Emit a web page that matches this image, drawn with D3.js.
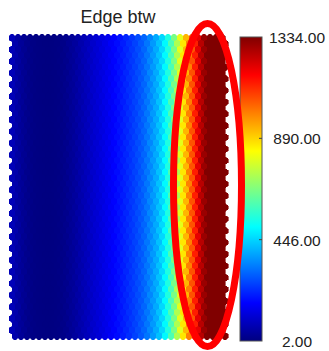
<!DOCTYPE html>
<html>
<head>
<meta charset="utf-8">
<script src="https://cdn.jsdelivr.net/npm/d3@7"></script>
<style>
  body { margin: 0; background: #fff; }
  text { font-family: "Liberation Sans", Arial, Helvetica, sans-serif; fill: #222; }
</style>
</head>
<body>
<div id="chart"></div>
<script>
var title = "Edge btw";
var nrows = 52;
// values per column, rows starting flush left
var evenRow = [75, 45, 25, 12, 6, 4, 3, 4, 8, 18, 32, 50, 70, 90, 110, 128, 148, 170,
               192, 216, 240, 268, 300, 345, 390, 450, 540, 660, 800, 930, 1060, 1200,
               1300, 1334, 1334, 1334];
// values per column, rows shifted half a cell right
var oddRow = [60, 34, 18, 9, 5, 3, 3, 6, 12, 25, 40, 60, 80, 100, 118, 138, 160, 181,
              204, 228, 254, 284, 322, 368, 420, 495, 600, 730, 865, 1000, 1130, 1260,
              1334, 1334, 1334, 1334];
var colorTicks = [2, 446, 890, 1334];
var jetStops = ["#000080", "#0000ff", "#00ffff", "#ffff00", "#ff0000", "#800000"];

var width = 329,
    height = 351,
    ncols = evenRow.length,
    grid = {left: 9, right: 228, top: 34, bottom: 340};

var svg = d3.select("#chart").append("svg")
    .attr("width", width)
    .attr("height", height);

var jet = d3.scaleLinear()
    .domain([0, 0.125, 0.375, 0.625, 0.875, 1])
    .range(jetStops)
    .interpolate(d3.interpolateRgb);

var color = d3.scaleLinear()
    .domain([2, 1334])
    .range([0, 1])
    .clamp(true);

var xScale = d3.scaleLinear()
    .domain([-0.5, ncols])
    .range([grid.left, grid.right]);

var w = xScale(1) - xScale(0),
    H = (grid.bottom - grid.top) / ((nrows - 1) * 0.75 + 1);

var yScale = d3.scaleLinear()
    .domain([0, nrows - 1])
    .range([grid.top + H / 2, grid.bottom - H / 2]);

var hexPath = "M0," + (-H / 2) +
    "L" + (w / 2) + "," + (-H / 4) +
    "L" + (w / 2) + "," + (H / 4) +
    "L0," + (H / 2) +
    "L" + (-w / 2) + "," + (H / 4) +
    "L" + (-w / 2) + "," + (-H / 4) + "Z";

var cells = [];
d3.range(nrows).forEach(function(r) {
  var vals = r % 2 === 0 ? evenRow : oddRow;
  vals.forEach(function(v, c) {
    cells.push({row: r, col: c + (r % 2) * 0.5, value: v});
  });
});

svg.append("g")
    .attr("shape-rendering", "crispEdges")
  .selectAll("path")
    .data(cells).enter()
    .append("path")
      .attr("d", hexPath)
      .attr("transform", function(d) { return "translate(" + xScale(d.col) + "," + yScale(d.row) + ")"; })
      .attr("fill", function(d) { return jet(color(d.value)); })
      .attr("stroke", function(d) { return jet(color(d.value)); })
      .attr("stroke-width", 0.6);

svg.append("text")
    .attr("x", 118)
    .attr("y", 23)
    .attr("text-anchor", "middle")
    .style("font-size", "18px")
    .text(title);

// colour bar
var bar = {x: 240, w: 22, top: 37, bottom: 341};
var cScale = d3.scaleLinear()
    .domain([2, 1334])
    .range([bar.bottom, bar.top]);

var grad = svg.append("defs").append("linearGradient")
    .attr("id", "jetgrad")
    .attr("x1", 0).attr("y1", 1).attr("x2", 0).attr("y2", 0);
grad.selectAll("stop")
    .data(d3.range(0, 1.0001, 0.025)).enter()
    .append("stop")
      .attr("offset", function(d) { return d; })
      .attr("stop-color", function(d) { return jet(d); });

svg.append("rect")
    .attr("x", bar.x)
    .attr("y", bar.top)
    .attr("width", bar.w)
    .attr("height", bar.bottom - bar.top)
    .attr("fill", "url(#jetgrad)")
    .attr("stroke", "#555")
    .attr("stroke-width", 1);

svg.append("g")
  .selectAll("line")
    .data(colorTicks.slice(1, -1)).enter()
    .append("line")
      .attr("x1", bar.x + bar.w - 3)
      .attr("x2", bar.x + bar.w)
      .attr("y1", function(d) { return cScale(d); })
      .attr("y2", function(d) { return cScale(d); })
      .attr("stroke", "#444");

svg.append("g")
  .selectAll("text")
    .data(colorTicks).enter()
    .append("text")
      .attr("x", 297)
      .attr("y", function(d) { return cScale(d) + 6; })
      .attr("text-anchor", "middle")
      .style("font-size", "15.5px")
      .text(function(d) { return d.toFixed(2); });

// highlight ellipse
svg.append("ellipse")
    .attr("cx", 207.5)
    .attr("cy", 185)
    .attr("rx", 34)
    .attr("ry", 161.5)
    .attr("fill", "none")
    .attr("stroke", "#ff0000")
    .attr("stroke-width", 7);
</script>
</body>
</html>
